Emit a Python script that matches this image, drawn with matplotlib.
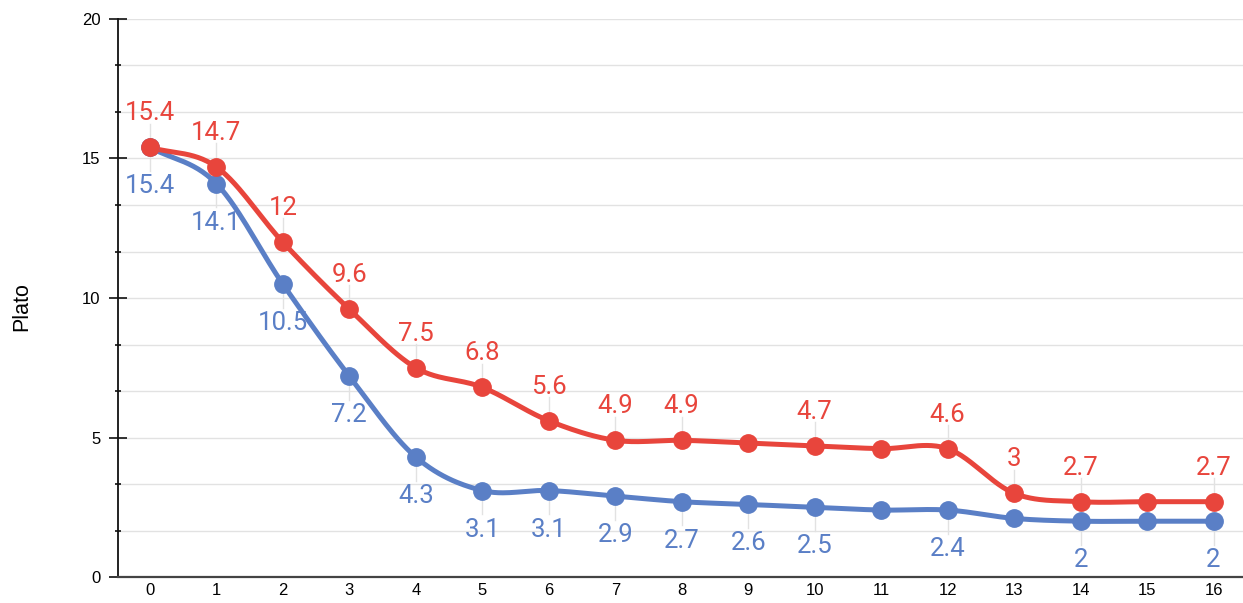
import numpy as np
import matplotlib.pyplot as plt
from matplotlib.ticker import MultipleLocator

# dados
x = list(range(17))
vermelho = [15.4, 14.7, 12, 9.6, 7.5, 6.8, 5.6, 4.9, 4.9, 4.8, 4.7, 4.6, 4.6, 3.0, 2.7, 2.7, 2.7]
azul = [15.4, 14.1, 10.5, 7.2, 4.3, 3.1, 3.1, 2.9, 2.7, 2.6, 2.5, 2.4, 2.4, 2.1, 2.0, 2.0, 2.0]
# pontos que mostram o rotulo
rot_vermelho = [0, 1, 2, 3, 4, 5, 6, 7, 8, 10, 12, 13, 14, 16]
rot_azul = [0, 1, 2, 3, 4, 5, 6, 7, 8, 9, 10, 12, 14, 16]

cor_verm = '#e8453c'
cor_azul = '#5a7fc6'

plt.rcParams['font.family'] = 'Liberation Sans'


def curva(xs, ys, n=30):
    # spline de Catmull-Rom passando pelos pontos
    xs = np.asarray(xs, float)
    ys = np.asarray(ys, float)
    mx = np.gradient(xs)
    my = np.gradient(ys)
    px, py = [], []
    t = np.linspace(0, 1, n)
    h00 = 2 * t**3 - 3 * t**2 + 1
    h10 = t**3 - 2 * t**2 + t
    h01 = -2 * t**3 + 3 * t**2
    h11 = t**3 - t**2
    for i in range(len(xs) - 1):
        px.append(h00 * xs[i] + h10 * mx[i] + h01 * xs[i + 1] + h11 * mx[i + 1])
        py.append(h00 * ys[i] + h10 * my[i] + h01 * ys[i + 1] + h11 * my[i + 1])
    return np.concatenate(px), np.concatenate(py)


fig = plt.figure(figsize=(12.43, 6.03), dpi=100)
ax = fig.add_axes([0.0949, 0.0431, 0.905, 0.9254])

ax.set_xlim(-0.48, 16.44)
ax.set_ylim(0, 20)

ax.yaxis.set_major_locator(MultipleLocator(5))
ax.yaxis.set_minor_locator(MultipleLocator(5 / 3))
ax.set_xticks(x)
ax.grid(axis='y', which='both', color='#e2e2e2', linewidth=1)
ax.set_axisbelow(True)

for s in ['top', 'right']:
    ax.spines[s].set_visible(False)
ax.spines['left'].set_color('#111111')
ax.spines['left'].set_linewidth(1.3)
ax.spines['bottom'].set_color('#444444')
ax.spines['bottom'].set_linewidth(1.6)

ax.tick_params(axis='y', which='major', direction='inout', length=13, width=1.2,
               color='#111111', labelsize=12, pad=6)
ax.tick_params(axis='y', which='minor', direction='inout', length=5, width=1.2, color='#111111')
ax.tick_params(axis='x', length=0, labelsize=12, pad=4)

fig.text(22 / 1243, 1 - 307 / 603, 'Plato', rotation=90, ha='center', va='center',
         fontsize=15.5)

for ys, cor, rots, desl in [(azul, cor_azul, rot_azul, -39), (vermelho, cor_verm, rot_vermelho, 34)]:
    cx, cy = curva(x, ys)
    ax.plot(cx, cy, color=cor, linewidth=3.6, solid_capstyle='round', zorder=3)
    ax.plot(x, ys, 'o', color=cor, markersize=12.5, zorder=4)
    for i in rots:
        # linha guia fina ate o rotulo
        ax.plot([x[i], x[i]], [ys[i], ys[i] + np.sign(desl) * 0.85], color='#e2e2e2',
                linewidth=1, zorder=2)
        ax.annotate(f'{ys[i]:g}', (x[i], ys[i]), xytext=(0, desl),
                    textcoords='offset pixels', ha='center', va='center',
                    fontsize=18.5, color=cor, family='Roboto', zorder=5)

fig.savefig('out.png', dpi=100)
